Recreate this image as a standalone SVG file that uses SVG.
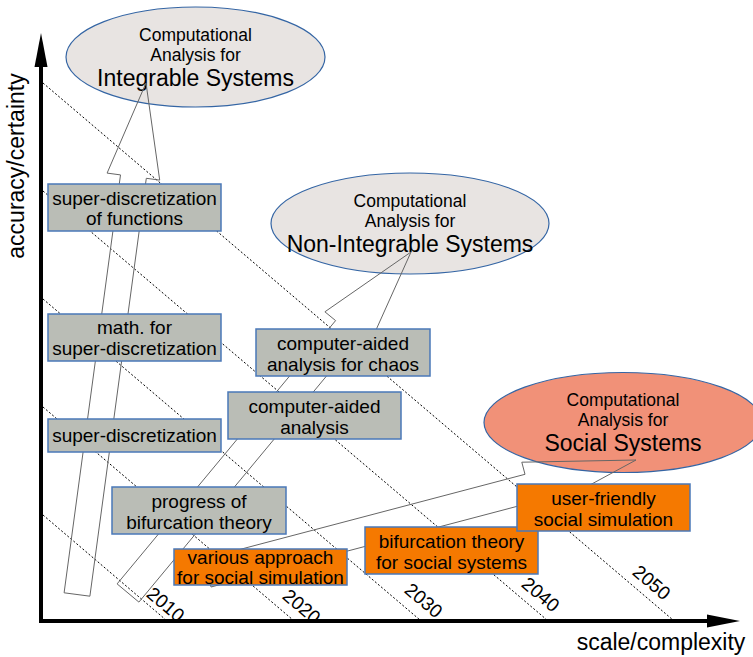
<svg xmlns="http://www.w3.org/2000/svg" width="753" height="657" viewBox="0 0 753 657">
<style>
text{font-family:"Liberation Sans",Arial,sans-serif;fill:#000}
.dot{stroke:#000;stroke-width:1;stroke-dasharray:2,2;fill:none}
.ell{fill:#e8e4e2;stroke:#3465a4;stroke-width:1.2}
.ells{fill:#f19178;stroke:#3465a4;stroke-width:1.2}
.box{fill:#babdb6;stroke:#4a78b8;stroke-width:1.5}
.obox{fill:#f57900;stroke:#4a78b8;stroke-width:1.5}
.arr{fill:none;stroke:#666;stroke-width:1}
.bt{font-size:19px;text-anchor:middle}
.et{font-size:17.5px;text-anchor:middle}
.eb{font-size:23px;text-anchor:middle}
.yr{font-size:19px;text-anchor:middle}
.ax{font-size:23px;text-anchor:middle}
</style>
<rect width="753" height="657" fill="#fff"/>
<g id="grid">
<line class="dot" x1="43" y1="83" x2="673" y2="620"/>
<line class="dot" x1="43" y1="191" x2="547" y2="620"/>
<line class="dot" x1="43" y1="299" x2="420" y2="620"/>
<line class="dot" x1="43" y1="407" x2="293" y2="620"/>
<line class="dot" x1="43" y1="515" x2="166" y2="620"/>
<text class="yr" transform="translate(166,604) rotate(40.4)" y="7">2010</text>
<text class="yr" transform="translate(302,606) rotate(40.4)" y="7">2020</text>
<text class="yr" transform="translate(424,600) rotate(40.4)" y="7">2030</text>
<text class="yr" transform="translate(541,594) rotate(40.4)" y="7">2040</text>
<text class="yr" transform="translate(652,582) rotate(40.4)" y="7">2050</text>
</g>
<g id="axes">
<line x1="41" y1="623" x2="41" y2="64" stroke="#000" stroke-width="4"/>
<polygon points="41,33 34.5,67 47.5,67" fill="#000"/>
<line x1="39" y1="621" x2="709" y2="621" stroke="#000" stroke-width="4"/>
<polygon points="740,621 707,614.5 707,627.5" fill="#000"/>
<text class="ax" transform="translate(24,166) rotate(-90)">accuracy/certainty</text>
<text class="ax" x="661" y="650">scale/complexity</text>
</g>
<g id="integrable">
<ellipse class="ell" cx="195.5" cy="57" rx="129.5" ry="50"/>
<text class="et" x="195.5" y="40.5">Computational</text>
<text class="et" x="195.5" y="61">Analysis for</text>
<text class="eb" x="195.5" y="86">Integrable Systems</text>
</g>
<g id="nonintegrable">
<ellipse class="ell" cx="410" cy="223.5" rx="139" ry="50.5"/>
<text class="et" x="410" y="207">Computational</text>
<text class="et" x="410" y="227">Analysis for</text>
<text class="eb" x="410" y="251.5">Non-Integrable Systems</text>
</g>
<g id="social">
<ellipse class="ells" cx="623" cy="422.5" rx="139" ry="50"/>
<text class="et" x="623" y="405.5">Computational</text>
<text class="et" x="623" y="425.5">Analysis for</text>
<text class="eb" x="623" y="450.5">Social Systems</text>
</g>
<g id="connectors">
<polygon class="arr" points="64.1,592.8 120.5,174.9 107.1,173.1 146,83 159.7,180.1 146.3,178.3 89.9,596.2"/>
<polygon class="arr" points="117.1,583.9 335.6,320.6 324.9,311.8 411,252 368.1,347.6 357.4,338.8 138.9,602.1"/>
<polygon class="arr" points="203.6,559 525,474.3 521.8,462.2 636,460 535.6,514.4 532.4,502.3 211,587"/>
</g>
<g id="sdf">
<rect class="box" x="48" y="184" width="173" height="47"/>
<text class="bt" x="134.5" y="204.5">super-discretization</text>
<text class="bt" x="134.5" y="225">of functions</text>
</g>
<g id="math">
<rect class="box" x="48" y="314" width="173" height="47"/>
<text class="bt" x="134.5" y="334">math. for</text>
<text class="bt" x="134.5" y="355">super-discretization</text>
</g>
<g id="sd">
<rect class="box" x="48" y="419" width="173" height="33"/>
<text class="bt" x="134.5" y="442">super-discretization</text>
</g>
<g id="bif">
<rect class="box" x="112" y="487" width="174" height="47"/>
<text class="bt" x="199" y="507.5">progress of</text>
<text class="bt" x="199" y="528.5">bifurcation theory</text>
</g>
<g id="caa">
<rect class="box" x="228" y="392" width="173" height="47"/>
<text class="bt" x="314.5" y="412.5">computer-aided</text>
<text class="bt" x="314.5" y="433.5">analysis</text>
</g>
<g id="chaos">
<rect class="box" x="256" y="329" width="174" height="47"/>
<text class="bt" x="343" y="349.5">computer-aided</text>
<text class="bt" x="343" y="370.5">analysis for chaos</text>
</g>
<g id="various">
<rect class="obox" x="174" y="549" width="173" height="36"/>
<text class="bt" x="260.5" y="563.5">various approach</text>
<text class="bt" x="260.5" y="584">for social simulation</text>
</g>
<g id="bifsoc">
<rect class="obox" x="365" y="527" width="173" height="47"/>
<text class="bt" x="451.5" y="547.5">bifurcation theory</text>
<text class="bt" x="451.5" y="568.5">for social systems</text>
</g>
<g id="userfriendly">
<rect class="obox" x="517" y="484" width="173" height="47"/>
<text class="bt" x="603.5" y="504.5">user-friendly</text>
<text class="bt" x="603.5" y="525.5">social simulation</text>
</g>
</svg>
